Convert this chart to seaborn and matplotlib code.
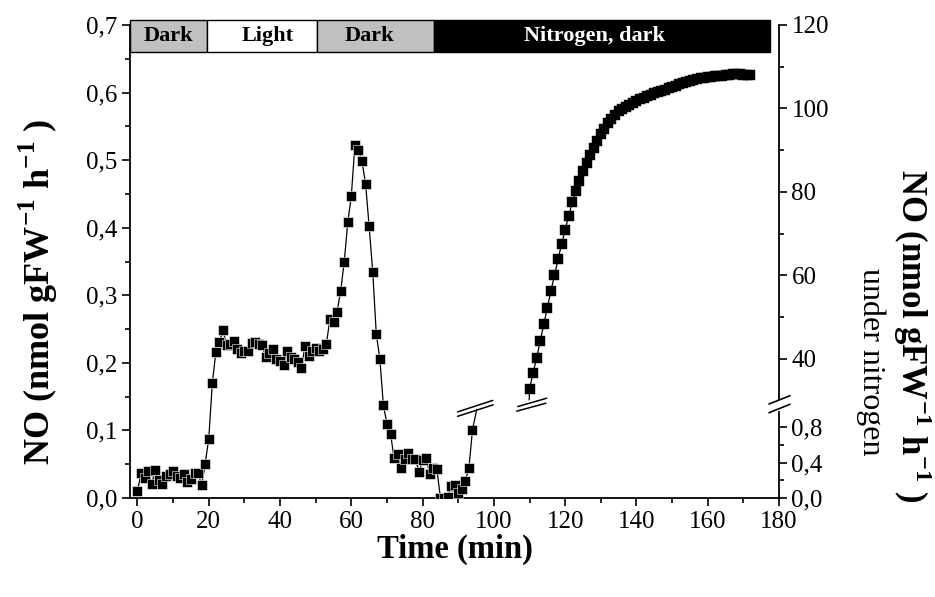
import numpy as np
import matplotlib
matplotlib.use("Agg")
import matplotlib.pyplot as plt
from matplotlib.patches import Rectangle
import seaborn as sns

# air phase, left axis, one reading per minute (last point = start of nitrogen)
t_air = np.arange(0, 86)
no_air = [0.010, 0.037, 0.030, 0.040, 0.021, 0.042, 0.026, 0.021, 0.032, 0.035,
          0.040, 0.032, 0.030, 0.035, 0.024, 0.028, 0.037, 0.037, 0.019, 0.051,
          0.088, 0.170, 0.216, 0.231, 0.248, 0.226, 0.228, 0.233, 0.220, 0.215,
          0.217, 0.218, 0.230, 0.231, 0.228, 0.226, 0.208, 0.214, 0.220, 0.205,
          0.203, 0.197, 0.218, 0.208, 0.206, 0.202, 0.192, 0.225, 0.210, 0.218,
          0.222, 0.217, 0.220, 0.228, 0.265, 0.261, 0.276, 0.306, 0.349, 0.408,
          0.447, 0.522, 0.515, 0.498, 0.465, 0.402, 0.335, 0.243, 0.206, 0.137,
          0.110, 0.095, 0.059, 0.065, 0.044, 0.057, 0.067, 0.057, 0.057, 0.039,
          0.056, 0.059, 0.036, 0.045, 0.043, 0.000]

# nitrogen, lower right scale
t_n2_low = np.arange(85, 95)
no_n2_low = [0.0, 0.0, 0.01, 0.135, 0.146, 0.053, 0.098, 0.195, 0.34, 0.77]

# nitrogen, upper right scale
t_n2_high = np.arange(110, 173)
no_n2_high = [32.9, 36.6, 40.3, 44.3, 48.3, 52.3, 56.3, 60.0, 63.9, 67.5,
              71.0, 74.2, 77.6, 80.3, 82.7, 85.1, 87.0, 88.8, 90.6, 92.3,
              93.8, 95.2, 96.5, 97.6, 98.5, 99.3, 99.9, 100.4, 100.9, 101.4,
              101.8, 102.2, 102.6, 103.0, 103.3, 103.6, 103.9, 104.2, 104.5, 104.8,
              105.1, 105.5, 105.8, 106.1, 106.4, 106.6, 106.8, 107.0, 107.2, 107.3,
              107.5, 107.6, 107.7, 107.8, 107.9, 108.0, 108.1, 108.2, 108.2, 108.2,
              108.1, 108.0, 108.0]

phases = ["Dark", "Light", "Dark", "Nitrogen, dark"]
phase_edges = [-2.1, 19.5, 50.4, 83.2, 177.4]
phase_colors = ["#c0c0c0", "white", "#c0c0c0", "black"]
phase_text_x = [8.6, 36.6, 65.2, 128.3]

sns.set_theme(style="ticks", rc={"axes.edgecolor": "black", "xtick.color": "black",
                                 "ytick.color": "black", "text.color": "black",
                                 "axes.labelcolor": "black"})
plt.rcParams["font.family"] = ["Liberation Serif", "DejaVu Serif"]
plt.rcParams["mathtext.fontset"] = "custom"
plt.rcParams["mathtext.rm"] = "Liberation Serif"
plt.rcParams["mathtext.bf"] = "Liberation Serif:bold"

fig = plt.figure(figsize=(9.35, 5.97), dpi=100)
ax = fig.add_axes([130 / 935, 99 / 597, 649 / 935, 473 / 597])
ax_lo = ax.twinx()
ax_hi = ax.twinx()

line_kw = dict(color="black", marker="s", markersize=6.5, linewidth=0.9,
               estimator=None, sort=False)
sns.lineplot(x=t_air, y=no_air, ax=ax, markeredgecolor="white", markeredgewidth=0.4, **line_kw)
sns.lineplot(x=t_n2_low, y=no_n2_low, ax=ax_lo, markeredgecolor="white", markeredgewidth=0.4, **line_kw)
sns.lineplot(x=t_n2_high, y=no_n2_high, ax=ax_hi, markeredgecolor="black", markeredgewidth=0.3, **line_kw)

ax.set_xlim(-2.1, 180)
ax.set_ylim(0, 0.7)
ax_lo.set_ylim(0, 5.33)
ax_hi.set_ylim(6.7, 120)

ax.set_xticks(range(0, 181, 20))
ax.set_xticks(range(10, 180, 20), minor=True)
ax.set_yticks(np.arange(0, 0.71, 0.1))
ax.set_yticklabels([f"{v:.1f}".replace(".", ",") for v in np.arange(0, 0.71, 0.1)])
ax.set_yticks(np.arange(0.05, 0.7, 0.1), minor=True)
ax_lo.set_yticks([0, 0.4, 0.8])
ax_lo.set_yticklabels(["0,0", "0,4", "0,8"])
ax_lo.set_yticks([0.2, 0.6], minor=True)
ax_hi.set_yticks([40, 60, 80, 100, 120])
ax_hi.set_yticks([50, 70, 90, 110], minor=True)

for a in (ax, ax_lo, ax_hi):
    a.set_xlabel("")
    a.set_ylabel("")
    a.tick_params(which="major", direction="out", length=6, width=1.2, labelsize=18, pad=3)
    a.tick_params(which="minor", direction="out", length=3.5, width=1.2)
    for s in a.spines.values():
        s.set_linewidth(1.3)

ax.spines["top"].set_visible(False)
ax.spines["right"].set_visible(False)
for a in (ax_lo, ax_hi):
    for side in ("left", "top", "bottom"):
        a.spines[side].set_visible(False)
ax_lo.spines["right"].set_bounds(0, 0.97)
ax_hi.spines["right"].set_bounds(30.4, 120)

# phase band on top
for name, x0, x1, c, tx in zip(phases, phase_edges[:-1], phase_edges[1:], phase_colors, phase_text_x):
    ax.add_patch(Rectangle((x0, 0.943), x1 - x0, 0.068, transform=ax.get_xaxis_transform(),
                           facecolor=c, edgecolor="black", lw=1, clip_on=False, zorder=5))
    ax.text(tx, 0.977, name, transform=ax.get_xaxis_transform(), ha="center", va="center",
            fontsize=16, fontweight="bold", color="white" if c == "black" else "black", zorder=6)

# axis break on right spine
bk = dict(color="black", lw=1.2, transform=ax.transAxes, clip_on=False)
ax.plot([0.9846, 1.0169], [0.1987, 0.2163], **bk)
ax.plot([0.9846, 1.0169], [0.1803, 0.1981], **bk)

# breaks on the curve
ax_lo.plot([94, 95.2], [0.77, 1.0], color="black", lw=0.9)
ax_lo.plot([89.8, 99.7], [0.97, 1.10], color="black", lw=1.1)
ax_lo.plot([89.8, 99.8], [0.92, 1.05], color="black", lw=1.1)
ax_hi.plot([109.9, 110], [30.2, 32.9], color="black", lw=0.9)
ax_hi.plot([106.7, 114.8], [28.6, 30.6], color="black", lw=1.1)
ax_hi.plot([106.4, 114.6], [27.5, 29.4], color="black", lw=1.1)

ylab = r"NO (nmol gFW$^{\mathbf{-1}}$ h$^{\mathbf{-1}}$ )"
fig.text(455 / 935, 1 - 549 / 597, "Time (min)", ha="center", va="center",
         fontsize=23.5, fontweight="bold")
fig.text(38 / 935, 1 - 292 / 597, ylab, ha="center", va="center", rotation=90,
         fontsize=26, fontweight="bold")
fig.text(912 / 935, 1 - 336 / 597, ylab, ha="center", va="center", rotation=270,
         fontsize=25, fontweight="bold")
fig.text(871 / 935, 1 - 362 / 597, "under nitrogen", ha="center", va="center", rotation=270,
         fontsize=23)

fig.savefig("out.png", dpi=100)
